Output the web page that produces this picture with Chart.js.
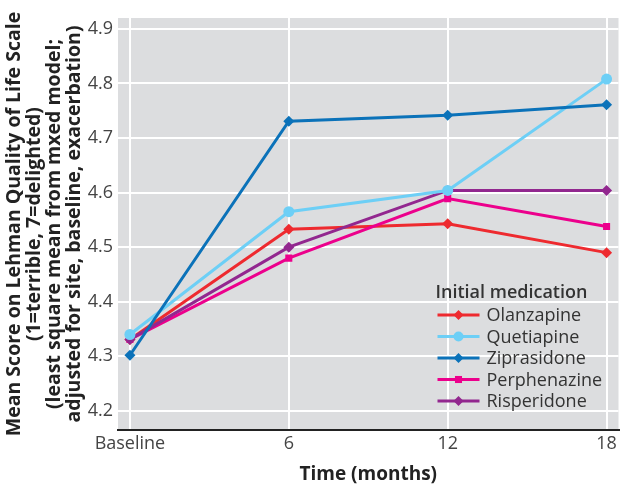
<!DOCTYPE html>
<html>
<head>
<meta charset="utf-8">
<script src="https://cdn.jsdelivr.net/npm/chart.js@4.4.1/dist/chart.umd.min.js"></script>
<style>
  html, body { margin: 0; padding: 0; background: #fff; }
  #wrap { width: 624px; height: 490px; }
</style>
</head>
<body>
<div id="wrap"><canvas id="grafico" width="624" height="490"></canvas></div>
<script>
// data
var meses = [0, 6, 12, 18];
var etiquetasX = ['Baseline', '6', '12', '18'];
var ticksY = [4.2, 4.3, 4.4, 4.5, 4.6, 4.7, 4.8, 4.9];

var olanzapina = [4.331, 4.533, 4.543, 4.490];
var quetiapina = [4.340, 4.565, 4.604, 4.808];
var ziprasidona = [4.302, 4.731, 4.742, 4.761];
var perfenazina = [4.331, 4.480, 4.589, 4.538];
var risperidona = [4.331, 4.500, 4.604, 4.604];

var nombres = ['Olanzapine', 'Quetiapine', 'Ziprasidone', 'Perphenazine', 'Risperidone'];
var colores = ['#ee2a2f', '#6dcff6', '#0b72b9', '#ec008c', '#92278f'];
var puntos = ['rectRot', 'circle', 'rectRot', 'rect', 'rectRot'];
var series = [olanzapina, quetiapina, ziprasidona, perfenazina, risperidona];

var fuente = '"Open Sans", "Noto Sans", sans-serif';

function crearDataSet(i) {
  var datos = [];
  for (var j = 0; j < meses.length; j++) {
    datos.push({x: meses[j], y: series[i][j]});
  }
  return {
    label: nombres[i],
    data: datos,
    borderColor: colores[i],
    backgroundColor: colores[i],
    borderWidth: 3,
    pointStyle: puntos[i],
    pointRadius: puntos[i] == 'rect' ? 5 : 5.5,
    pointBorderWidth: 0,
    tension: 0
  };
}

var datasets = [];
for (var i = 0; i < series.length; i++) datasets.push(crearDataSet(i));
// draw order like the figure (ziprasidone under, olanzapine on top)
datasets = [datasets[2], datasets[1], datasets[4], datasets[3], datasets[0]];

// gray plot background
var fondo = {
  id: 'fondo',
  beforeDraw: function(chart) {
    var a = chart.chartArea, ctx = chart.ctx;
    ctx.save();
    ctx.fillStyle = '#dcdddf';
    ctx.fillRect(a.left, a.top, a.right - a.left, a.bottom - a.top);
    ctx.restore();
  }
};

// legend inside the plot, bottom right
var leyenda = {
  id: 'leyenda',
  afterDraw: function(chart) {
    var a = chart.chartArea, ctx = chart.ctx;
    var x0 = a.right - 181;
    ctx.save();
    ctx.fillStyle = '#333333';
    ctx.textBaseline = 'middle';
    ctx.textAlign = 'left';
    ctx.font = '600 18px ' + fuente;
    ctx.fillText('Initial medication', x0 - 2, a.bottom - 137);
    ctx.font = '18px ' + fuente;
    for (var i = 0; i < nombres.length; i++) {
      var y = a.bottom - 115 + i * 21.5;
      ctx.strokeStyle = colores[i];
      ctx.lineWidth = 3;
      ctx.beginPath();
      ctx.moveTo(x0, y);
      ctx.lineTo(x0 + 42, y);
      ctx.stroke();
      ctx.fillStyle = colores[i];
      Chart.helpers.drawPoint(ctx, {pointStyle: puntos[i], radius: 5, borderWidth: 0}, x0 + 21, y);
      ctx.fillStyle = '#333333';
      ctx.fillText(nombres[i], x0 + 49, y + 1);
    }
    ctx.restore();
  }
};

var ctx = document.getElementById('grafico').getContext('2d');
var grafico = new Chart(ctx, {
  type: 'line',
  data: { datasets: datasets },
  plugins: [fondo, leyenda],
  options: {
    responsive: false,
    animation: false,
    layout: { padding: { top: 18, right: 0, left: 0, bottom: 0 } },
    plugins: {
      legend: { display: false },
      tooltip: { enabled: false }
    },
    scales: {
      x: {
        type: 'linear',
        min: -0.45,
        max: 18.45,
        afterBuildTicks: function(s) {
          s.ticks = meses.map(function(v) { return {value: v}; });
        },
        afterFit: function(s) { s.height = 60; },
        ticks: {
          callback: function(v) { return etiquetasX[meses.indexOf(v)]; },
          color: '#444444',
          font: { family: fuente, size: 18 },
          padding: 3,
          maxRotation: 0
        },
        grid: { color: '#ffffff', lineWidth: 2, drawTicks: false },
        border: { display: true, color: '#222222', width: 2 },
        title: {
          display: true,
          text: 'Time (months)',
          color: '#222222',
          font: { family: fuente, size: 19, weight: 'bold' },
          padding: { top: 8 }
        }
      },
      y: {
        min: 4.165,
        max: 4.92,
        afterBuildTicks: function(s) {
          s.ticks = ticksY.map(function(v) { return {value: v}; });
        },
        afterFit: function(s) { s.width = 118; },
        ticks: {
          callback: function(v) { return v.toFixed(1); },
          color: '#444444',
          font: { family: fuente, size: 18 },
          padding: 5
        },
        grid: { color: '#ffffff', lineWidth: 2, drawTicks: false },
        border: { display: false },
        title: {
          display: true,
          text: ['Mean Score on Lehman Quality of Life Scale', '(1=terrible, 7=delighted)',
                 '(least square mean from mxed model;', 'adjusted for site, baseline, exacerbation)'],
          color: '#222222',
          font: { family: fuente, size: 19.5, weight: 'bold', lineHeight: 1.03 },
          padding: { top: 4, bottom: 0 }
        }
      }
    }
  }
});
</script>
</body>
</html>
